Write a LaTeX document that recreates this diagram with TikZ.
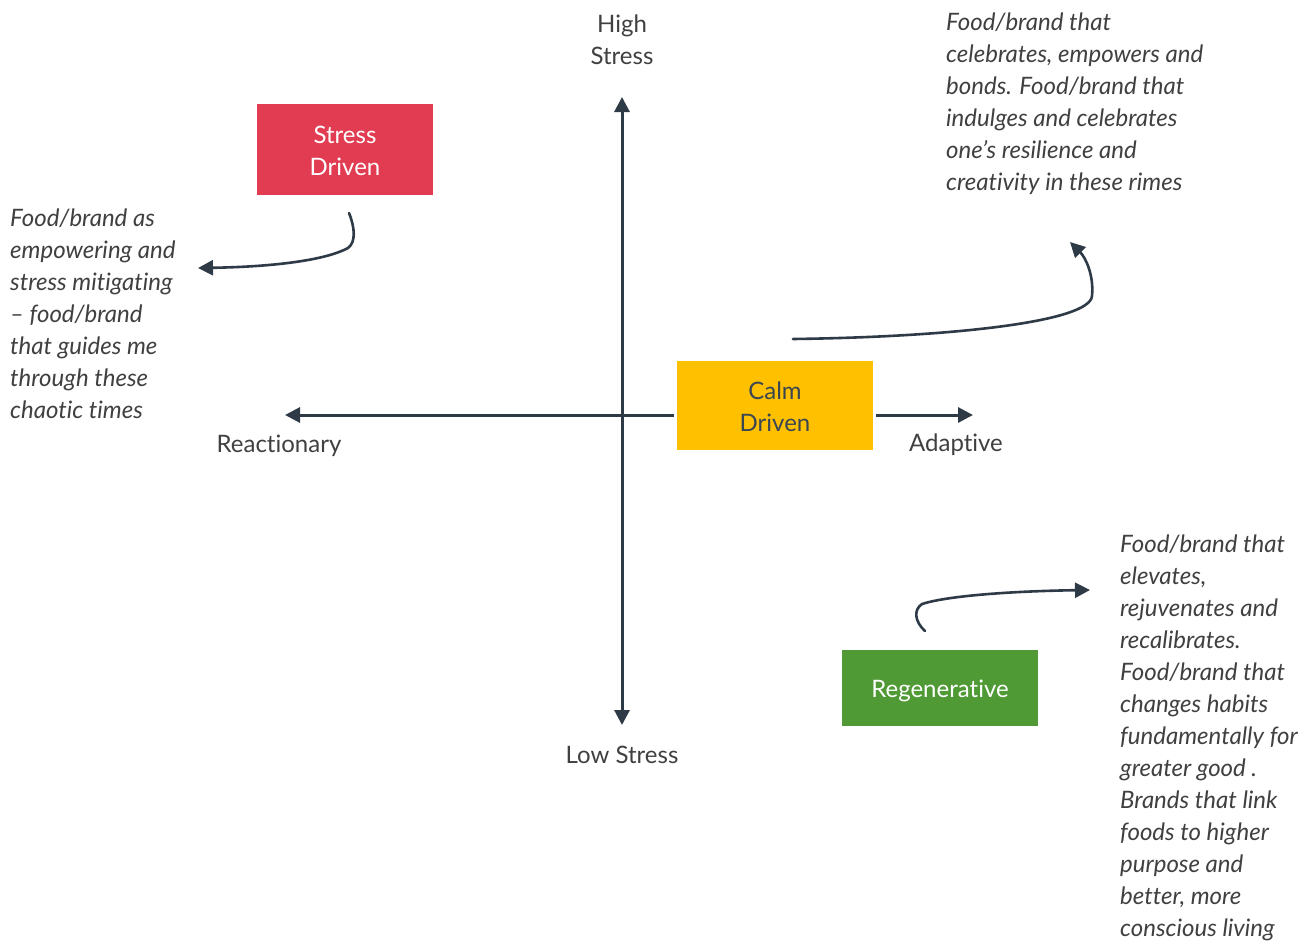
\documentclass[tikz,border=0pt]{standalone}
\usepackage{fontspec}
\setmainfont{Lato}[Ligatures=NoCommon]
\usetikzlibrary{arrows.meta}
\definecolor{ink}{HTML}{2E3B47}
\definecolor{txt}{HTML}{404040}
\definecolor{boxtxt}{HTML}{3A4652}
\definecolor{stressred}{HTML}{E13C51}
\definecolor{calmyellow}{HTML}{FFC000}
\definecolor{regengreen}{HTML}{4F9A35}

\begin{document}
\begin{tikzpicture}[x=1pt,y=-1pt,
  axis/.style={draw=ink,line width=3pt,{Triangle[length=15pt,width=15pt]}-{Triangle[length=15pt,width=15pt]}},
  curve/.style={draw=ink,line width=2.6pt,line cap=round,-{Triangle[length=15pt,width=15pt]}},
  lbl/.style={text=txt,font=\fontsize{24}{32}\selectfont,align=center,inner sep=0pt},
  note/.style={text=txt,font=\fontsize{24}{32}\selectfont\itshape,align=left,inner sep=0pt,anchor=north west},
  quad/.style={inner sep=0pt,align=center,font=\fontsize{24}{32}\selectfont}]

% canvas
\useasboundingbox[fill=white] (0,0) rectangle (1314,940);

% axis end points
\coordinate (top) at (622,97);
\coordinate (bottom) at (622,725);
\coordinate (left) at (285,415);
\coordinate (right) at (973,415);

\draw[axis] (bottom) -- (top);
\draw[axis] (left) -- (right);

% quadrant boxes
\node[quad,fill=stressred,text=white,minimum width=176pt,minimum height=91pt] (stress) at (345,149.5) {};
\node[quad,text=white] at (345,151) {Stress\\Driven};
\node[quad,fill=calmyellow,draw=white,line width=3pt,minimum width=199pt,minimum height=92pt] (calm) at (775,405.5) {};
\node[quad,text=boxtxt] at (775,407) {Calm\\Driven};
\node[quad,fill=regengreen,text=white,minimum width=196pt,minimum height=76pt] (regen) at (940,688) {};
\node[quad,text=white] at (940,691) {Regenerative};

% axis labels
\node[lbl] (high) at (622,40) {High\\Stress};
\node[lbl] (low) at (622,755) {Low Stress};
\node[lbl] (reac) at (279,446) {Reactionary};
\node[lbl] (adap) at (956,445) {Adaptive};

% descriptions
\node[note] (noteleft) at (10,209) {Food/brand as\\empowering and\\stress mitigating\\– food/brand\\that guides me\\through these\\chaotic times};
\node[note] (notetop) at (946,13) {Food/brand that\\celebrates, empowers and\\bonds. Food/brand that\\indulges and celebrates\\one’s resilience and\\creativity in these rimes};
\node[note] (notebottom) at (1120,535) {Food/brand that\\elevates,\\rejuvenates and\\recalibrates.\\Food/brand that\\changes habits\\fundamentally for\\greater good .\\Brands that link\\foods to higher\\purpose and\\better, more\\conscious living};

% curved pointers
\coordinate (s1) at (349,213);
\coordinate (e1) at (198,268);
\coordinate (s2) at (793,339);
\coordinate (e2) at (1070,242);
\coordinate (s3) at (925,631);
\coordinate (e3) at (1090,590);

\draw[curve] (s1) .. controls (355,228) and (356,242) .. (348,248) .. controls (322,262) and (262,267) .. (e1);
\draw[curve] (s2) .. controls (950,337) and (1090,322) .. (1092,296) .. controls (1094,276) and (1086,258) .. (e2);
\draw[curve] (s3) .. controls (915,622) and (913,610) .. (922,604) .. controls (950,595) and (1020,591) .. (e3);
\end{tikzpicture}
\end{document}
